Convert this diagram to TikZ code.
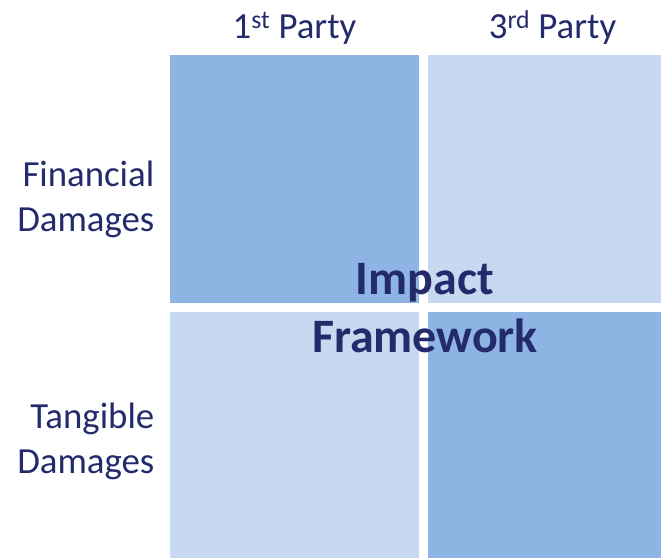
\documentclass[tikz,border=0pt]{standalone}
\usepackage{fontspec}
\setmainfont{Carlito}
\usetikzlibrary{positioning}
\definecolor{IFDark}{HTML}{8EB4E3}
\definecolor{IFLight}{HTML}{C6D9F1}
\definecolor{IFInk}{HTML}{232B6C}
\tikzset{
  cell/.style={fill=IFDark,draw=none,inner sep=0pt,minimum width=249pt,minimum height=248pt},
  celllight/.style={cell,fill=IFLight},
  colhead/.style={text=IFInk,font=\fontsize{36.8}{44}\selectfont,anchor=base,inner sep=0pt},
  rowhead/.style={text=IFInk,font=\fontsize{36.8}{45}\selectfont,align=right,anchor=east,inner sep=0pt},
  title/.style={text=IFInk,font=\fontsize{48}{58}\selectfont\bfseries,align=center,inner sep=0pt},
}

\begin{document}
\begin{tikzpicture}[x=1pt,y=-1pt]
    \clip (0,0) rectangle (661,557);
    \fill[white] (0,0) rectangle (661,557);

    % the four quadrants
    \node[cell] (firstfin) at (294.5,179) {};
    \node[celllight] (thirdfin) at (552.5,179) {};
    \node[celllight] (firsttan) at (294.5,436) {};
    \node[cell] (thirdtan) at (552.5,436) {};

    % column and row headings
    \node[colhead] (firsthead) at (294.5,38) {1\textsuperscript{st} Party};
    \node[colhead] (thirdhead) at (552.5,38) {3\textsuperscript{rd} Party};
    \node[rowhead] (finhead) at (154.5,199.5) {Financial\\Damages};
    \node[rowhead] (tanhead) at (154.5,441) {Tangible\\Damages};

    \node[title] (impact) at (425,308) {Impact\\Framework};
  \end{tikzpicture}
\end{document}
